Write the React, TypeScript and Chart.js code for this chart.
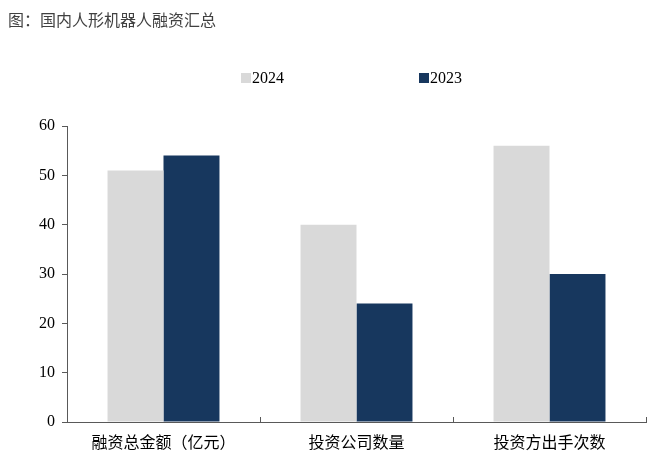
import React, { useEffect, useRef } from "react";
import { Chart, registerables } from "chart.js";

Chart.register(...registerables);

const categories = ["融资总金额（亿元）", "投资公司数量", "投资方出手次数"];
const series2024 = [51, 40, 56];
const series2023 = [54, 24, 30];
const yTicks = [0, 10, 20, 30, 40, 50, 60];

const COLOR_2024 = "#d9d9d9";
const COLOR_2023 = "#17375e";
const AXIS = "#595959";

const catTicks = {
  id: "catTicks",
  afterDraw(chart: any) {
    const { ctx, chartArea } = chart;
    const n = categories.length;
    const w = (chartArea.right - chartArea.left) / n;
    ctx.save();
    ctx.strokeStyle = AXIS;
    ctx.lineWidth = 1;
    for (let i = 1; i <= n; i++) {
      const x = Math.round(chartArea.left + i * w) + 0.5;
      ctx.beginPath();
      ctx.moveTo(x, chartArea.bottom);
      ctx.lineTo(x, chartArea.bottom - 5);
      ctx.stroke();
    }
    ctx.restore();
  },
};

export default function App() {
  const ref = useRef<HTMLCanvasElement>(null);
  useEffect(() => {
    if (!ref.current) return;
    const chart = new Chart(ref.current, {
      type: "bar",
      data: {
        labels: categories,
        datasets: [
          {
            label: "2024",
            data: series2024,
            backgroundColor: COLOR_2024,
            categoryPercentage: 0.58,
            barPercentage: 1,
          },
          {
            label: "2023",
            data: series2023,
            backgroundColor: COLOR_2023,
            categoryPercentage: 0.58,
            barPercentage: 1,
          },
        ],
      },
      options: {
        animation: false,
        responsive: false,
        maintainAspectRatio: false,
        layout: { padding: { top: 126, right: 15, bottom: 0, left: 0 } },
        plugins: {
          legend: { display: false },
          title: { display: false },
          tooltip: { enabled: false },
        },
        scales: {
          x: {
            grid: { display: false, drawTicks: false },
            border: { display: true, color: AXIS, width: 1 },
            ticks: {
              color: "#000",
              padding: 10,
              font: { family: "'Noto Sans CJK SC'", size: 16 },
            },
            afterFit(scale: any) {
              scale.height = 37;
            },
          },
          y: {
            min: 0,
            max: 60,
            afterBuildTicks(scale: any) {
              scale.ticks = yTicks.map((v) => ({ value: v }));
            },
            grid: {
              drawOnChartArea: false,
              drawTicks: true,
              tickLength: 5,
              color: AXIS,
            },
            border: { display: true, color: AXIS, width: 1 },
            ticks: {
              color: "#000",
              padding: 7,
              font: { family: "'Liberation Serif'", size: 16 },
            },
            afterFit(scale: any) {
              scale.width = 67;
            },
          },
        },
      },
      plugins: [catTicks],
    });
    return () => chart.destroy();
  }, []);

  return (
    <div style={{ position: "fixed", left: 0, top: 0, width: 661, height: 459, background: "#fff" }}>
      <canvas ref={ref} width={661} height={459} style={{ position: "absolute", left: 0, top: 0 }} />
      <div
        style={{
          position: "absolute",
          left: 8,
          top: 8,
          fontFamily: "'Noto Sans CJK SC'",
          fontSize: 16,
          lineHeight: "22px",
          color: "#404040",
          whiteSpace: "nowrap",
        }}
      >
        图：国内人形机器人融资汇总
      </div>
      {[
        { label: "2024", color: COLOR_2024, x: 241 },
        { label: "2023", color: COLOR_2023, x: 419 },
      ].map((it) => (
        <div
          key={it.label}
          style={{
            position: "absolute",
            left: it.x,
            top: 68,
            height: 20,
            display: "flex",
            alignItems: "center",
            fontFamily: "'Liberation Serif'",
            fontSize: 16,
            color: "#000",
          }}
        >
          <span style={{ display: "inline-block", width: 10, height: 10, background: it.color, marginRight: 1 }} />
          <span>{it.label}</span>
        </div>
      ))}
    </div>
  );
}
